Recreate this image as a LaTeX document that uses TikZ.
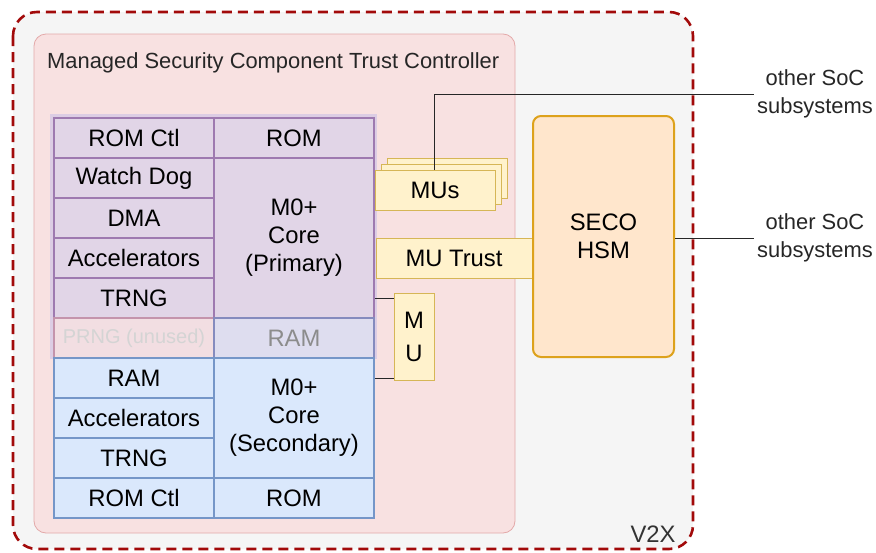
\documentclass[tikz,border=0pt]{standalone}
\usepackage{fontspec}
\setmainfont{Liberation Sans}
\usetikzlibrary{positioning}
\definecolor{vtwoxfill}{HTML}{F5F5F5}
\definecolor{vtwoxline}{HTML}{A20A0A}
\definecolor{mscfill}{HTML}{F8E1E1}
\definecolor{mscline}{HTML}{E3A9A9}
\definecolor{purplefill}{HTML}{E1D5E7}
\definecolor{purpleline}{HTML}{9E7AB0}
\definecolor{purpleback}{HTML}{DCCDE4}
\definecolor{bluefill}{HTML}{DAE8FC}
\definecolor{blueline}{HTML}{7596C8}
\definecolor{yellowfill}{HTML}{FFF2CC}
\definecolor{yellowline}{HTML}{D6B656}
\definecolor{orangefill}{HTML}{FFE6CC}
\definecolor{orangeline}{HTML}{DDA21C}

\begin{document}
\begin{tikzpicture}[x=1pt,y=-1pt,
 cell/.style={draw,line width=1.5pt,inner sep=0pt,align=center,
  font=\fontsize{23.8}{28}\selectfont},
 pcell/.style={cell,draw=purpleline,fill=purplefill,minimum width=160,minimum height=40},
 bcell/.style={cell,draw=blueline,fill=bluefill,minimum width=160,minimum height=40},
 mubox/.style={cell,line width=1pt,draw=yellowline,fill=yellowfill},
 wire/.style={line width=1pt,black!85}]
 \useasboundingbox (0,0) rectangle (876,552);
 % V2X and trust controller frames
 \draw[vtwoxline,fill=vtwoxfill,line width=2.6pt,dash pattern=on 10pt off 6pt,rounded corners=24]
  (13,12) rectangle (693,549);
 \node[anchor=center,font=\fontsize{23.8}{28}\selectfont,text=black!80] (v2x) at (653,534) {V2X};
 \draw[mscline,fill=mscfill,line width=0.8pt,rounded corners=12] (34,34) rectangle (515,533);
 \node[anchor=west,font=\fontsize{21.9}{24}\selectfont,text=black!85,inner sep=0pt] (msctc) at (47,62.5)
  {Managed Security Component Trust Controller};
 %
 \fill[purpleback] (50,114) rectangle (377,359);
 % primary core
 \foreach \T [count=\i] in {ROM Ctl,Watch Dog,DMA,Accelerators,TRNG}
  \node[pcell] (pl\i) at (134,{98+40*\i}) {\T};
 \node[pcell] (prom) at (294,138) {ROM};
 \node[pcell,minimum height=160] (pcore) at (294,238) {M0+\\Core\\(Primary)};
 \node[cell,draw=purpleline!45!mscline,fill=mscfill!75!purplefill,text=black!17,minimum width=160,minimum height=40,
  font=\fontsize{20}{24}\selectfont] (prng) at (134,338) {PRNG (unused)};
 \node[cell,draw=blueline!60!purpleline,fill=purplefill!60!bluefill,text=black!45,minimum width=160,minimum height=40]
  (pram) at (294,338) {RAM};
 % secondary core
 \foreach \T [count=\i] in {RAM,Accelerators,TRNG,ROM Ctl}
  \node[bcell] (sl\i) at (134,{338+40*\i}) {\T};
 \node[bcell,minimum height=120] (score) at (294,418) {M0+\\Core\\(Secondary)};
 \node[bcell] (srom) at (294,498) {ROM};
 %
 \foreach \d in {12,6}
  \draw[yellowline,fill=yellowfill,line width=1pt] (375+\d,170-\d) rectangle (495+\d,210-\d);
 \node[mubox,minimum width=120,minimum height=40] (mus) at (435,190) {MUs};
 \node[mubox,minimum width=156,minimum height=40] (mutrust) at (454,258) {MU Trust};
 \node[mubox,minimum width=40,minimum height=87,font=\fontsize{23.8}{33}\selectfont] (mu) at (414,336.5) {M\\U};
 \node[cell,line width=2pt,draw=orangeline,fill=orangefill,rounded corners=8,
  minimum width=141,minimum height=241] (seco) at (603.5,236.5) {SECO\\HSM};
 % connections
 \draw[wire] (pcore.east |- 0,298) -- (mu.west |- 0,298);
 \draw[wire] (score.east |- 0,378) -- (mu.west |- 0,378);
 \coordinate (socA) at (754,94);
 \coordinate (socB) at (754,238);
 \draw[wire] (mus.north -| 434,0) |- (socA);
 \draw[wire] (seco.east |- socB) -- (socB);
 \node[right=3pt of socA,align=center,font=\fontsize{21.9}{28}\selectfont,text=black!85,inner sep=0pt] (socAtxt) {other SoC\\subsystems};
 \node[right=3pt of socB,align=center,font=\fontsize{21.9}{28}\selectfont,text=black!85,inner sep=0pt] (socBtxt) {other SoC\\subsystems};
\end{tikzpicture}
\end{document}
